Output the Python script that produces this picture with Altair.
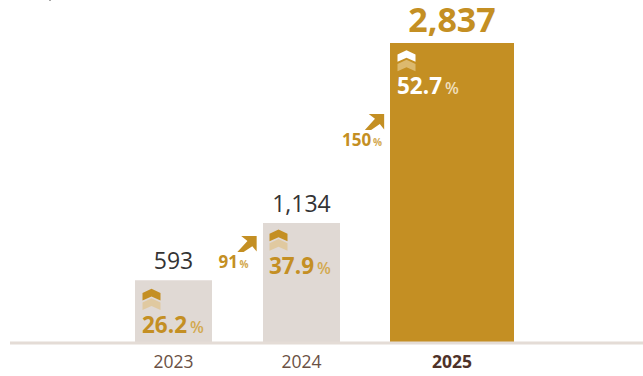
import altair as alt
import pandas as pd

years = [2023, 2024, 2025]
values = [593, 1134, 2837]
value_labels = ["593", "1,134", "2,837"]
shares = ["26.2", "37.9", "52.7"]
growth_labels = ["91", "150"]

GOLD = "#c48f23"
SAND = "#e0d9d4"
FONT = "Open Sans"
BASE = 343
SCALE_TOP = 2837 * BASE / 300

x_enc = alt.X(
    "year:Q",
    scale=alt.Scale(domain=years, range=[173.5, 301.5, 452], nice=False, zero=False, padding=0),
    axis=None,
)
y_enc = alt.Y(
    "value:Q",
    scale=alt.Scale(domain=[0, SCALE_TOP], nice=False, zero=True),
    axis=None,
    stack=None,
)

table = pd.DataFrame({"year": years, "value": values, "label": value_labels, "share": shares})


def row(i):
    return alt.Chart(table.iloc[[i]]).encode(x=x_enc, y=y_enc)


def text(i, field, dx, dy, size, color, weight="normal", align="left"):
    return row(i).mark_text(
        font=FONT, fontSize=size, color=color, fontWeight=weight, align=align,
        baseline="alphabetic", dx=dx, dy=dy,
    ).encode(text=alt.Text(field))


def caption(i, string, dx, dy, size, color, weight="normal"):
    return row(i).mark_text(
        font=FONT, fontSize=size, color=color, fontWeight=weight, align="left",
        baseline="alphabetic", dx=dx, dy=dy,
    ).encode(text=alt.value(string))


def year_label(i, color, weight="normal"):
    return alt.Chart(table.iloc[[i]]).mark_text(
        font=FONT, fontSize=17.5, color=color, fontWeight=weight, align="center",
        baseline="alphabetic", dy=24.5,
    ).encode(x=x_enc, y=alt.value(BASE), text=alt.Text("year:N"))


CHEVRON = "M0,-0.65 L1,-0.17 L1,0.65 L0,0.2 L-1,0.65 L-1,-0.17 Z"
ARROW = "M-1,0.85 L0.05,-0.3 L-0.6,-0.8 L1,-0.8 L1,0.8 L0.55,0.25 L-0.35,0.85 Z"

bars = [
    row(0).mark_bar(size=77, color=SAND, orient="vertical"),
    row(1).mark_bar(size=77, color=SAND, orient="vertical"),
    row(2).mark_bar(size=124, color=GOLD, orient="vertical"),
]

baseline = alt.Chart(table.iloc[[0]]).mark_rule(color="#e4dcd6", strokeWidth=3).encode(
    x=alt.value(10), x2=alt.value(643), y=alt.value(BASE)
)
corner_speck = alt.Chart(table.iloc[[0]]).mark_rule(color="#a8a8a8", strokeWidth=1).encode(
    x=alt.value(49), x2=alt.value(51), y=alt.value(0.5)
)

year_labels = [
    year_label(0, "#6a5044"),
    year_label(1, "#6a5044"),
    year_label(2, "#4e3229", "bold"),
]

labels = [
    text(0, "label", 0, -11, 23, "#333333", align="center"),
    text(1, "label", 0, -11, 23, "#333333", align="center"),
    text(2, "label", 0, -11, 34, GOLD, "bold", align="center"),
]

share_marks = []
for i, (x0, peak, dy, main, unit, soft) in enumerate([
    (-31.5, 14.3, 53, GOLD, "#d3a94f", "#e0c9a0"),
    (-32.5, 12.3, 51, GOLD, "#d3a94f", "#e0c9a0"),
    (-55, 13, 51, "#ffffff", "#f0dfbc", "#dcb96e"),
]):
    share_marks += [
        row(i).mark_point(shape=CHEVRON, size=324, filled=True, opacity=1, color=soft,
                          strokeWidth=0, xOffset=x0 + 9.5, yOffset=peak + 9.5),
        row(i).mark_point(shape=CHEVRON, size=324, filled=True, opacity=1, color=main,
                          strokeWidth=0, xOffset=x0 + 9.5, yOffset=peak),
        text(i, "share", x0, dy, 22.5, main, "bold"),
        caption(i, "%", x0 + 48, dy, 16, unit, 600),
    ]

growth_marks = [
    row(1).mark_point(shape=ARROW, size=373, filled=True, opacity=1, color=GOLD,
                      strokeWidth=0, xOffset=-54.5, yOffset=20.7),
    caption(1, growth_labels[0], -83, 45, 17, GOLD, "bold"),
    caption(1, "%", -62, 45, 10, "#d3a94f", "bold"),
    row(2).mark_point(shape=ARROW, size=373, filled=True, opacity=1, color=GOLD,
                      strokeWidth=0, xOffset=-77.5, yOffset=78.7),
    caption(2, growth_labels[1], -110, 103, 17, GOLD, "bold"),
    caption(2, "%", -79, 103, 10, "#d3a94f", "bold"),
]

chart = alt.layer(*bars, baseline, corner_speck, *year_labels, *labels, *share_marks, *growth_marks).properties(
    width=643,
    height=BASE,
    padding={"left": 0, "top": 0, "right": 0, "bottom": 33},
    autosize=alt.AutoSizeParams(type="none"),
    background="white",
).configure_view(stroke=None)

chart.save("out.html", embed_options={"renderer": "svg", "actions": False})
